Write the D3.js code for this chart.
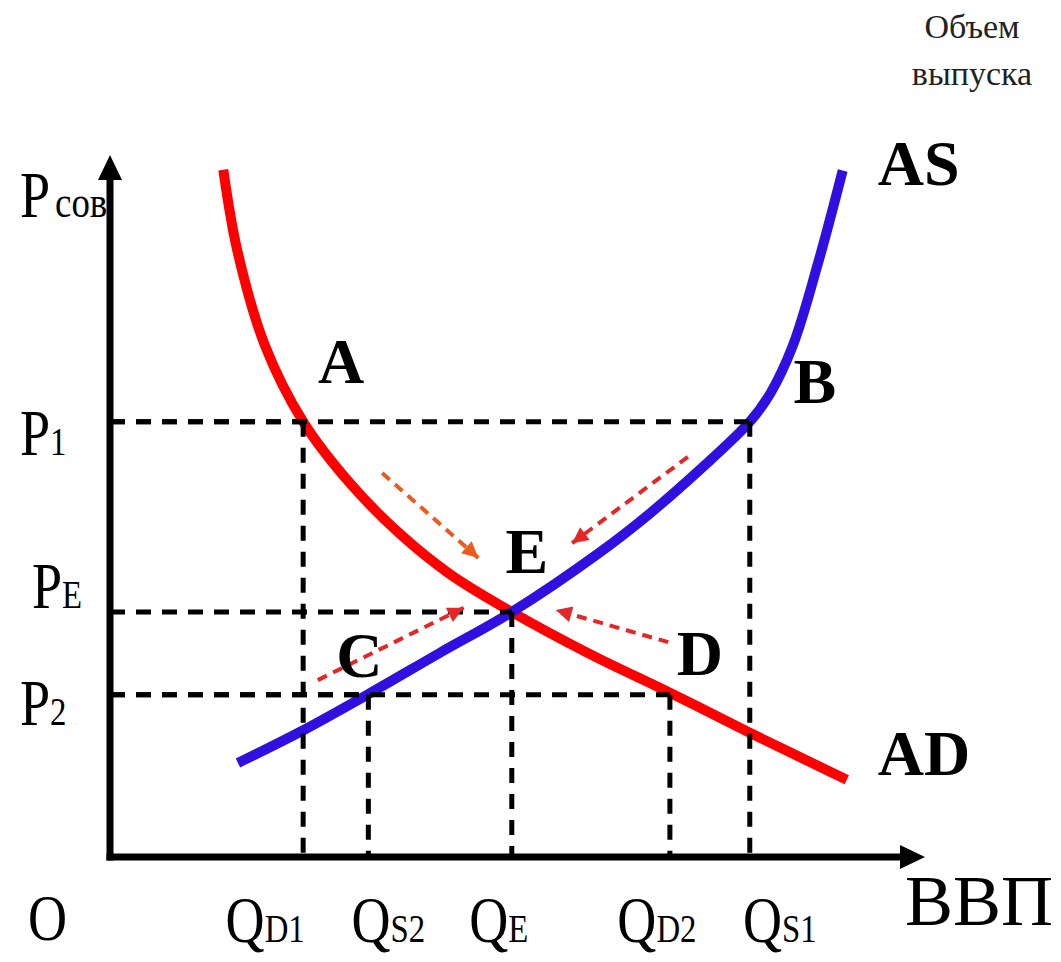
<!DOCTYPE html>
<html>
<head>
<meta charset="utf-8">
<script src="https://cdn.jsdelivr.net/npm/d3@7"></script>
<style>
  body { margin: 0; background: #fff; }
  text { font-family: "Liberation Serif", "Times New Roman", serif; }
</style>
</head>
<body>
<svg id="chart"></svg>
<script>
// ---- data (abstract units, 0..100 on both axes) ----
const adCurve = [[13.9, 97.9], [15.6, 86.5], [19.0, 72.9], [23.7, 62.0], [29.4, 53.3], [35.6, 46.0],
                 [41.7, 40.3], [49.3, 34.9], [58.9, 28.9], [68.7, 23.4], [78.5, 17.7], [90.4, 11.0]];
const asCurve = [[15.7, 13.4], [23.3, 17.8], [31.7, 23.2], [40.5, 29.1], [49.3, 34.9], [60.1, 43.4],
                 [66.3, 49.0], [72.4, 55.2], [78.5, 62.0], [81.0, 66.0], [83.8, 72.9], [86.9, 84.7],
                 [89.9, 97.8]];

const priceSubs = ["1", "E", "2"];
const priceValues = [62.0, 34.9, 23.1];
const qtySubs = ["D1", "S2", "E", "D2", "S1"];
const qtyValues = [23.7, 31.7, 49.3, 68.7, 78.5];

const pointNames = ["A", "B", "E", "C", "D"];
const pointQ = [23.7, 78.5, 49.3, 31.7, 68.7];
const pointP = [62.0, 62.0, 34.9, 23.1, 23.1];

const arrowFrom = [[33.4, 54.7], [70.9, 57.0], [25.5, 25.2], [68.5, 30.6]];
const arrowTo = [[45.2, 42.6], [56.7, 44.7], [43.4, 35.5], [54.7, 35.2]];

// ---- layout / style ----
const width = 1061, height = 962;
const red = "#ff0000", blue = "#3010e0";
const arrowColors = ["#ec5a1e", "#e52626", "#e52626", "#e52626"];
const qLabelDx = [-38, 20, -13, -13, 30];
const pLabel = [{ x: 20, dy: 33 }, { x: 32, dy: -4 }, { x: 20, dy: 30 }];
const pointDx = [38, 65, 15, -9, 30];
const pointDy = [-39, -19, -39, -18, -20];
const condense = 0.82;

const svg = d3.select('#chart').attr("width", width).attr("height", height);

const x = d3.scaleLinear().domain([0, 100]).range([110, 925]);
const y = d3.scaleLinear().domain([0, 100]).range([857, 155]);

// layer under the axes (the axis title P cov is partly covered by the axis)
const under = svg.append("g");

// axes with arrow heads
const axes = svg.append("g");
axes.append("line")
    .attr("x1", x(0)).attr("y1", y(0) + 3.5)
    .attr("x2", x(0)).attr("y2", y(100) + 20)
    .attr("stroke", "#000").attr("stroke-width", 7);
axes.append("line")
    .attr("x1", x(0) - 3.5).attr("y1", y(0))
    .attr("x2", x(100) - 20).attr("y2", y(0))
    .attr("stroke", "#000").attr("stroke-width", 7);
axes.append("path")
    .attr("d", `M${x(0)},${y(100)} L${x(0) + 12},${y(100) + 25} L${x(0) - 12},${y(100) + 25} Z`)
    .attr("fill", "#000");
axes.append("path")
    .attr("d", `M${x(100)},${y(0)} L${x(100) - 25},${y(0) - 12} L${x(100) - 25},${y(0) + 12} Z`)
    .attr("fill", "#000");

// AD and AS curves
const line = d3.line()
    .x(d => x(d[0]))
    .y(d => y(d[1]))
    .curve(d3.curveCatmullRom.alpha(0.5));

svg.append("path").datum(adCurve)
    .attr("d", line).attr("fill", "none")
    .attr("stroke", red).attr("stroke-width", 10);
svg.append("path").datum(asCurve)
    .attr("d", line).attr("fill", "none")
    .attr("stroke", blue).attr("stroke-width", 10);

// dashed guide lines from each point to the axes
const guides = svg.append("g")
    .attr("stroke", "#000").attr("stroke-width", 5).attr("stroke-dasharray", "15,11");
pointNames.forEach((name, i) => {
    guides.append("line")
        .attr("x1", x(0)).attr("y1", y(pointP[i]))
        .attr("x2", x(pointQ[i])).attr("y2", y(pointP[i]));
    guides.append("line")
        .attr("x1", x(pointQ[i])).attr("y1", y(pointP[i]))
        .attr("x2", x(pointQ[i])).attr("y2", y(0));
});

// red dashed arrows toward equilibrium
const defs = svg.append("defs");
arrowColors.forEach((c, i) => {
    defs.append("marker")
        .attr("id", "head" + i)
        .attr("viewBox", "0 0 10 10")
        .attr("refX", 10).attr("refY", 5)
        .attr("markerUnits", "userSpaceOnUse")
        .attr("markerWidth", 19).attr("markerHeight", 16)
        .attr("orient", "auto")
        .append("path").attr("d", "M0,0 L10,5 L0,10 Z").attr("fill", c);
});
arrowFrom.forEach((f, i) => {
    svg.append("line")
        .attr("x1", x(f[0])).attr("y1", y(f[1]))
        .attr("x2", x(arrowTo[i][0])).attr("y2", y(arrowTo[i][1]))
        .attr("stroke", arrowColors[i]).attr("stroke-width", 4)
        .attr("stroke-dasharray", "10,7")
        .attr("marker-end", `url(#head${i})`);
});

// point labels
pointNames.forEach((name, i) => {
    svg.append("text")
        .attr("x", x(pointQ[i]) + pointDx[i])
        .attr("y", y(pointP[i]) + pointDy[i])
        .attr("text-anchor", "middle")
        .attr("font-size", 64).attr("font-weight", "bold")
        .text(name);
});

// curve names
const adEnd = adCurve[adCurve.length - 1], asEnd = asCurve[asCurve.length - 1];
svg.append("text").attr("x", x(asEnd[0]) + 35).attr("y", y(asEnd[1]) + 15)
    .attr("font-size", 64).attr("font-weight", "bold").text("AS");
svg.append("text").attr("x", x(adEnd[0]) + 31).attr("y", y(adEnd[1]) - 5)
    .attr("font-size", 64).attr("font-weight", "bold").text("AD");

// helper: big letter with a smaller trailing part, condensed horizontally
function subLabel(layer, px, py, anchor, main, sub, subSize) {
    const t = layer.append("text")
        .attr("transform", `translate(${px},${py}) scale(${condense},1)`)
        .attr("text-anchor", anchor);
    t.append("tspan").attr("font-size", 66).text(main);
    t.append("tspan").attr("font-size", subSize || 40).text(sub);
    return t;
}

// price labels on the vertical axis
priceValues.forEach((p, i) => {
    subLabel(svg, pLabel[i].x, y(p) + pLabel[i].dy, "start", "P", priceSubs[i]);
});
subLabel(under, 20, 217, "start", "P", "сов", 45).select("tspan:last-child").attr("dx", 6);

// quantity labels below the horizontal axis
qtyValues.forEach((q, i) => {
    subLabel(svg, x(q) + qLabelDx[i], 942, "middle", "Q", qtySubs[i]);
});
subLabel(svg, 28, 940, "start", "O", "");

// axis title
svg.append("text").attr("x", 905).attr("y", 925)
    .attr("font-size", 72).text("ВВП");

// top right note
const note = svg.append("text").attr("text-anchor", "middle").attr("font-size", 34).attr("fill", "#222");
note.append("tspan").attr("x", 972).attr("y", 38).text("Объем");
note.append("tspan").attr("x", 972).attr("y", 85).text("выпуска");
</script>
</body>
</html>
